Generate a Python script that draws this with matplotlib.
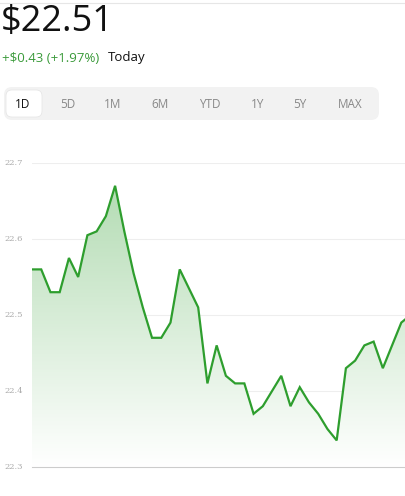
import numpy as np
import matplotlib.pyplot as plt
import matplotlib.patches as mpatches
from matplotlib.colors import LinearSegmentedColormap
from matplotlib.transforms import blended_transform_factory

plt.rcParams["font.family"] = ["Open Sans", "DejaVu Sans"]

prices = [22.56, 22.56, 22.53, 22.53, 22.575, 22.55, 22.605, 22.61, 22.63, 22.67,
          22.61, 22.555, 22.51, 22.47, 22.47, 22.49, 22.56, 22.535, 22.51, 22.41,
          22.46, 22.42, 22.41, 22.41, 22.37, 22.38, 22.40, 22.42, 22.38, 22.405,
          22.385, 22.37, 22.35, 22.335, 22.43, 22.44, 22.46, 22.465, 22.43, 22.46,
          22.49, 22.50]
y_ticks = [22.3, 22.4, 22.5, 22.6, 22.7]
x_tick_pos = [3.7, 27.9]
x_tick_labels = ["10:00 AM", "12:00 PM"]
ranges = ["1D", "5D", "1M", "6M", "YTD", "1Y", "5Y", "MAX"]

W, H = 405, 496
fig = plt.figure(figsize=(W / 100, H / 100), dpi=100)

# header
hdr = fig.add_axes([0, 0, 1, 1])
hdr.set_xlim(0, W)
hdr.set_ylim(H, 0)
hdr.set_axis_off()
hdr.plot([0, W], [3, 3], color="#e6e6e6", lw=0.8)
hdr.text(1, 22, "$22.51", fontsize=26, va="center", ha="left", color="#111111")
hdr.text(2, 58, "+$0.43 (+1.97%)", fontsize=9.5, va="center", ha="left", color="#3a9a3a")
hdr.text(108, 58, "Today", fontsize=9.5, va="center", ha="left", color="#111111")
hdr.add_patch(mpatches.FancyBboxPatch((4, 87), 375, 33,
              boxstyle="round,pad=0,rounding_size=8", fc="#f2f2f2", ec="none"))
hdr.add_patch(mpatches.FancyBboxPatch((6, 90), 36, 27,
              boxstyle="round,pad=0,rounding_size=6", fc="white", ec="#e4e4e4", lw=0.5))
bx = [23, 68, 113, 160, 210, 258, 300, 350]
for i, (lab, x) in enumerate(zip(ranges, bx)):
    hdr.text(x, 104, lab, fontsize=8.5, ha="center", va="center",
             color="#111111" if i == 0 else "#888888")

# chart
x = np.arange(len(prices))
x_max = 40.4
ax = fig.add_axes([32 / W, 1 - 467 / H, (W - 32) / W, 304 / H])
ax.set_xlim(0, x_max)
ax.set_ylim(22.3, 22.7)
for s in ax.spines.values():
    s.set_visible(False)
ax.spines["bottom"].set_visible(True)
ax.spines["bottom"].set_color("#cccccc")
for yv in y_ticks[1:]:
    ax.axhline(yv, color="#eeeeee", lw=0.8, zorder=0)
ax.set_yticks([])
ax.set_xticks([])
tr = blended_transform_factory(fig.transFigure, ax.transData)
for yv in y_ticks:
    ax.text(4 / W, yv, f"{yv:.1f}", transform=tr, fontsize=6,
            family="DejaVu Serif", color="#aaaaaa", ha="left", va="center", clip_on=False)
for xp, lab in zip(x_tick_pos, x_tick_labels):
    ax.text(xp, 22.3 - 0.045, lab, fontsize=6, family="DejaVu Serif",
            color="#aaaaaa", ha="center", va="center", weight="bold")

cmap = LinearSegmentedColormap.from_list("g", [(1, 1, 1, 1), (0.70, 0.86, 0.70, 1)])
grad = np.linspace(0, 1, 256).reshape(-1, 1)
im = ax.imshow(grad, extent=[0, x_max, 22.3, 22.68], origin="lower", aspect="auto",
               cmap=cmap, zorder=1)
verts = [(0, 22.3)] + list(zip(x, prices)) + [(x[-1], 22.3)]
clip = mpatches.Polygon(verts, closed=True, transform=ax.transData, fc="none", ec="none")
ax.add_patch(clip)
im.set_clip_path(clip)
ax.plot(x, prices, color="#2e9e2e", lw=1.6, zorder=3, solid_joinstyle="miter")
ax.set_xlim(0, x_max)

fig.savefig("out.png", dpi=100)
